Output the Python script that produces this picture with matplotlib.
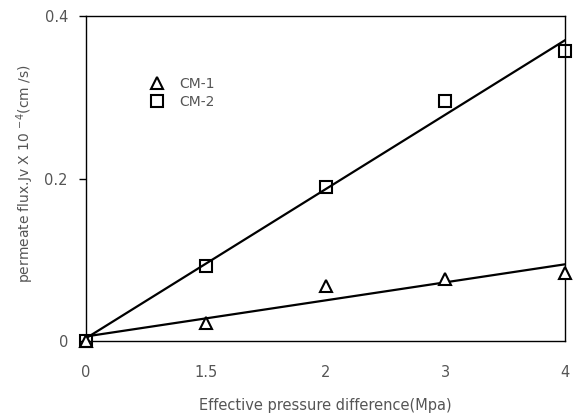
import numpy as np
import matplotlib
matplotlib.use("Agg")
import matplotlib.pyplot as plt

# pressure steps (plotted as evenly spaced categories)
pressure_labels = ["0", "1.5", "2", "3", "4"]
cm1_flux = [0.0, 0.022, 0.068, 0.076, 0.084]
cm2_flux = [0.0, 0.092, 0.190, 0.295, 0.357]

plt.rcParams["font.family"] = ["DejaVu Sans"]
txt_col = "#555555"

fig = plt.figure(figsize=(5.78, 4.16), dpi=100)
ax = fig.add_axes([0.1488, 0.1803, 0.8287, 0.7812])

x = np.arange(len(pressure_labels))

# linear trend lines
for flux in (cm1_flux, cm2_flux):
    k, b = np.polyfit(x, flux, 1)
    ax.plot(x[[0, -1]], k * x[[0, -1]] + b, color="black", lw=1.6, zorder=2)

ax.plot(x, cm1_flux, ls="none", marker="^", ms=9, mfc="white", mec="black",
        mew=1.5, label="CM-1", zorder=3, clip_on=False)
ax.plot(x, cm2_flux, ls="none", marker="s", ms=9, mfc="none", mec="black",
        mew=1.5, label="CM-2", zorder=3, clip_on=False)

ax.set_xlim(0, 4)
ax.set_ylim(0, 0.4)
ax.set_xticks(x)
ax.set_xticklabels(pressure_labels)
ax.set_yticks([0, 0.2, 0.4])
ax.set_yticklabels(["0", "0.2", "0.4"])
ax.tick_params(axis="y", direction="out", length=5, width=1, pad=8,
               labelsize=10.5, labelcolor=txt_col)
ax.tick_params(axis="x", length=0, pad=17, labelsize=10.5, labelcolor=txt_col)
for s in ax.spines.values():
    s.set_linewidth(1)

ax.set_xlabel("Effective pressure difference(Mpa)", fontsize=10.5, color=txt_col,
              labelpad=13)
ax.set_ylabel(r"permeate flux.Jv X 10 $^{-4}$(cm /s)", fontsize=10, color=txt_col)
ax.yaxis.set_label_coords(-0.105, 0.515)

leg = ax.legend(loc="upper left", bbox_to_anchor=(0.105, 0.85), frameon=False,
                handlelength=1.2, handletextpad=1.0, labelspacing=0.25,
                fontsize=10)
for t in leg.get_texts():
    t.set_color(txt_col)

fig.savefig("out.png", dpi=100)
